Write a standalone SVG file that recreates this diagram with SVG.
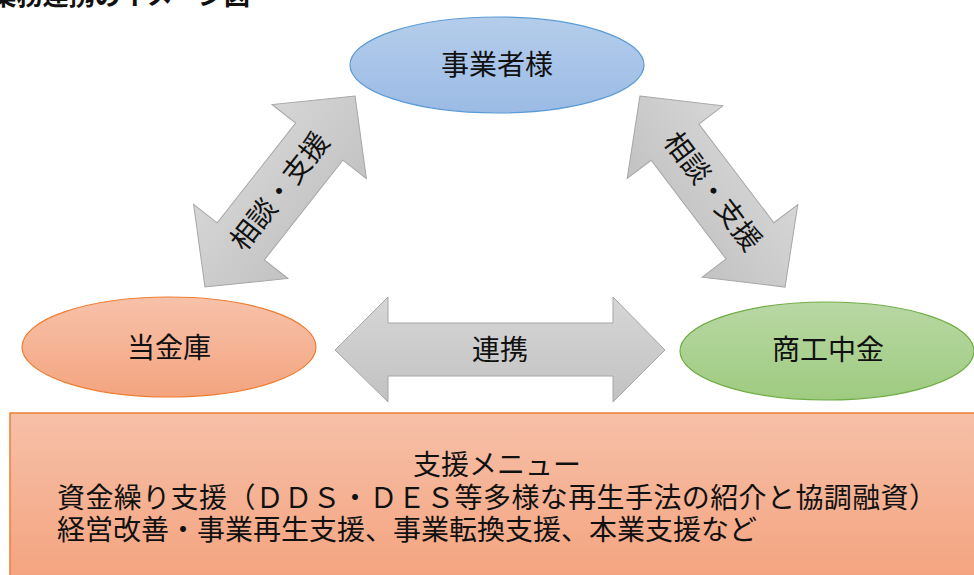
<svg xmlns="http://www.w3.org/2000/svg" width="974" height="575" viewBox="0 0 974 575">
<style>
text{font-family:"Liberation Serif","Noto Sans CJK JP",serif;fill:#111;}
.lbl{font-size:28px;text-anchor:middle;dominant-baseline:central;}
.arr{fill:url(#gGray);stroke:#a6a6a6;stroke-width:1;}
.menu{font-size:28px;}
</style>
<defs>
<linearGradient id="gBlue" x1="0" y1="0" x2="0" y2="1"><stop offset="0" stop-color="#b5cdeb"/><stop offset="1" stop-color="#9bbbe5"/></linearGradient>
<linearGradient id="gOrange" x1="0" y1="0" x2="0" y2="1"><stop offset="0" stop-color="#f7c2aa"/><stop offset="1" stop-color="#f4a47f"/></linearGradient>
<linearGradient id="gGreen" x1="0" y1="0" x2="0" y2="1"><stop offset="0" stop-color="#b8d8a4"/><stop offset="1" stop-color="#9fcb80"/></linearGradient>
<linearGradient id="gRect" x1="0" y1="0" x2="0" y2="1"><stop offset="0" stop-color="#f6c0a8"/><stop offset="1" stop-color="#f4a37e"/></linearGradient>
<linearGradient id="gGray" x1="0" y1="0" x2="0" y2="1"><stop offset="0" stop-color="#d6d6d6"/><stop offset="1" stop-color="#c2c2c2"/></linearGradient>
</defs>
<rect width="974" height="575" fill="#ffffff"/>
<text x="250" y="5" font-size="26" font-weight="bold" text-anchor="end">業務連携のイメージ図</text>

<g id="connectors">
<g id="arrow-left" transform="translate(280,191.5) rotate(-51.85)">
<polygon class="arr" points="-121.5,0 -63.5,-60 -63.5,-30 63.5,-30 63.5,-60 121.5,0 63.5,60 63.5,30 -63.5,30 -63.5,60"/>
<text class="lbl" x="0" y="0">相談・支援</text>
</g>
<g id="arrow-right" transform="translate(712.5,191.5) rotate(52.8)">
<polygon class="arr" points="-120,0 -62,-60 -62,-30 62,-30 62,-60 120,0 62,60 62,30 -62,30 -62,60"/>
<text class="lbl" x="0" y="0">相談・支援</text>
</g>
<g id="arrow-middle">
<polygon class="arr" points="335,350 388,297 388,323 613,323 613,297 665,350 613,402 613,376 388,376 388,402"/>
<text class="lbl" x="500" y="350">連携</text>
</g>
</g>

<g id="node-customer">
<ellipse cx="497" cy="65" rx="147" ry="48" fill="url(#gBlue)" stroke="#5b9bd5" stroke-width="1.2"/>
<text class="lbl" x="497" y="65">事業者様</text>
</g>
<g id="node-bank">
<ellipse cx="169" cy="347" rx="147" ry="50" fill="url(#gOrange)" stroke="#ed7d31" stroke-width="1.2"/>
<text class="lbl" x="169" y="348">当金庫</text>
</g>
<g id="node-shokochukin">
<ellipse cx="827" cy="351" rx="147" ry="49" fill="url(#gGreen)" stroke="#70ad47" stroke-width="1.2"/>
<text class="lbl" x="828" y="350">商工中金</text>
</g>
<g id="node-menu">
<rect x="10" y="413" width="970" height="170" fill="url(#gRect)" stroke="#ed7d31" stroke-width="1.5"/>
<text class="menu" x="497" y="475" text-anchor="middle">支援メニュー</text>
<text class="menu" x="57" y="508" textLength="880" lengthAdjust="spacing">資金繰り支援（ＤＤＳ・ＤＥＳ等多様な再生手法の紹介と協調融資）</text>
<text class="menu" x="57" y="540" textLength="700" lengthAdjust="spacing">経営改善・事業再生支援、事業転換支援、本業支援など</text>
</g>
</svg>
